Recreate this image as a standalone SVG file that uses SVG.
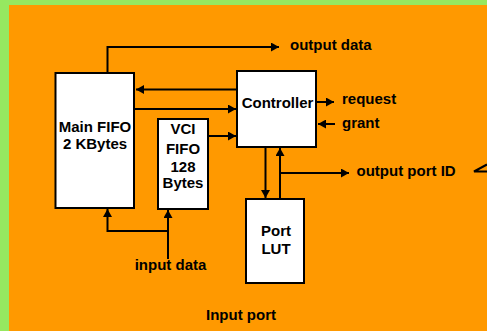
<svg xmlns="http://www.w3.org/2000/svg" width="487" height="331" viewBox="0 0 487 331">
<defs>
<style>
.box{fill:#fff;stroke:#000;stroke-width:2}
.ln{fill:none;stroke:#000;stroke-width:2}
.arr{marker-end:url(#ah)}
text{font-family:"Liberation Sans",Arial,sans-serif;font-weight:bold;font-size:15px;fill:#000}
.c{text-anchor:middle}
</style>
<marker id="ah" markerUnits="userSpaceOnUse" markerWidth="9" markerHeight="9" refX="8" refY="4.5" orient="auto">
<path d="M0,0 L8,4.5 L0,9 z" fill="#000"/>
</marker>
</defs>
<rect x="0" y="0" width="487" height="331" fill="#96E860"/>
<rect x="9" y="5" width="478" height="326" fill="#FF9900"/>
<g id="connectors">
<path class="ln arr" d="M107.5,73 V47 H279"/>
<path class="ln arr" d="M237,89.5 H136"/>
<path class="ln arr" d="M134,109 H236"/>
<path class="ln arr" d="M208,136 H236"/>
<path class="ln arr" d="M316,102 H334"/>
<path class="ln arr" d="M335,124 H318"/>
<path class="ln arr" d="M265.5,147 V198"/>
<path class="ln arr" d="M280,199 V148"/>
<path class="ln arr" d="M280,173 H349"/>
<path class="ln arr" d="M168,259 V210"/>
<path class="ln arr" d="M168,231 H107.5 V209"/>
<path class="ln" d="M487,164.5 L474,171.5 H487" stroke-width="1.5"/>
</g>
<g id="main-fifo">
<rect class="box" x="55.5" y="73" width="78.5" height="135"/>
<text class="c" x="95" y="131.5">Main FIFO</text>
<text class="c" x="95" y="149">2 KBytes</text>
</g>
<g id="vci-fifo">
<rect class="box" x="158" y="119" width="50" height="90"/>
<text class="c" x="183" y="133.5">VCI</text>
<text class="c" x="183" y="154">FIFO</text>
<text class="c" x="183" y="171.5">128</text>
<text class="c" x="183" y="188">Bytes</text>
</g>
<g id="controller">
<rect class="box" x="237" y="71" width="79" height="76"/>
<text class="c" x="277.5" y="108">Controller</text>
</g>
<g id="port-lut">
<rect class="box" x="246" y="199" width="58" height="84"/>
<text class="c" x="276" y="236">Port</text>
<text class="c" x="276" y="254">LUT</text>
</g>
<g id="labels">
<text x="290" y="50">output data</text>
<text x="342" y="103.5">request</text>
<text x="342" y="127.5">grant</text>
<text x="356.5" y="176">output port ID</text>
<text class="c" x="170.5" y="270">input data</text>
<text x="206" y="320">Input port</text>
</g>
</svg>
